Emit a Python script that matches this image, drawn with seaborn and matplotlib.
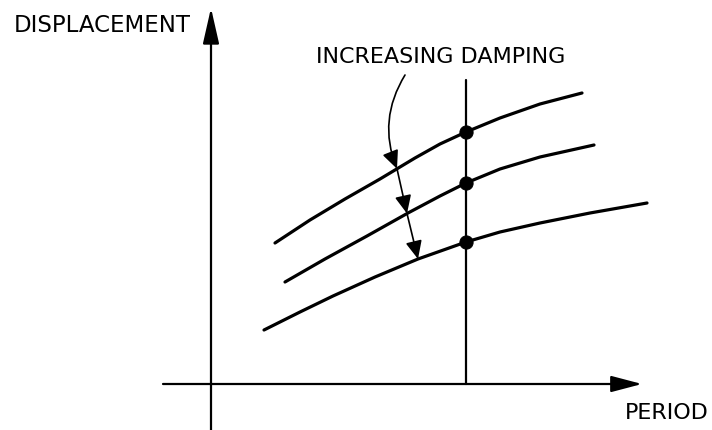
import numpy as np
import pandas as pd
import seaborn as sns
import matplotlib.pyplot as plt
from matplotlib.patches import FancyArrowPatch

# curves (period vs displacement, arbitrary units)
period_low = [275, 310, 345, 380, 415, 440, 466, 500, 540, 582]
disp_low = [187, 210, 231, 251, 272, 286, 298, 312, 326, 337]          # lowest damping

period_mid = [285, 325, 367, 408, 440, 466, 500, 540, 594]
disp_mid = [148, 171, 194, 217, 234, 247, 261, 273, 285]

period_high = [264, 300, 333, 375, 418, 466, 500, 540, 590, 647]
disp_high = [100, 118, 134, 153, 171, 188, 198, 207, 217, 227]         # highest damping

design_period = 466
arrow_periods = [397, 407, 418]

sns.set_theme(style="white")
plt.rcParams['font.family'] = ['DejaVu Sans']
plt.rcParams['text.color'] = 'black'
plt.rcParams['lines.solid_joinstyle'] = 'round'
plt.rcParams['lines.solid_capstyle'] = 'round'

curves = pd.concat([
    pd.DataFrame({"period": period_low, "disp": disp_low, "damping": "low"}),
    pd.DataFrame({"period": period_mid, "disp": disp_mid, "damping": "mid"}),
    pd.DataFrame({"period": period_high, "disp": disp_high, "damping": "high"}),
])

fig = plt.figure(figsize=(7.12, 4.30), dpi=100)
ax = fig.add_axes([0, 0, 1, 1])
ax.set_xlim(0, 712)
ax.set_ylim(0, 430)
ax.set_axis_off()

sns.lineplot(data=curves, x="period", y="disp", units="damping", estimator=None,
             sort=False, color="black", linewidth=2.3, ax=ax, legend=False)

# displacement at the design period
dots = pd.DataFrame({
    "period": [design_period] * 3,
    "disp": [np.interp(design_period, p, d) for p, d in
             [(period_low, disp_low), (period_mid, disp_mid), (period_high, disp_high)]],
})
sns.scatterplot(data=dots, x="period", y="disp", color="black", s=90,
                edgecolor="black", zorder=5, ax=ax, legend=False)
ax.plot([design_period, design_period], [46, 350], color="black", lw=1.6)

# axes with arrows
ax.add_patch(FancyArrowPatch((211, 0), (211, 422), arrowstyle="-|>,head_length=22,head_width=5",
                             mutation_scale=1, color="black", lw=1.6, shrinkA=0, shrinkB=0))
ax.add_patch(FancyArrowPatch((163, 46), (642, 46), arrowstyle="-|>,head_length=19,head_width=5",
                             mutation_scale=1, color="black", lw=1.6, shrinkA=0, shrinkB=0))

ax.text(102, 404, "DISPLACEMENT", fontsize=16.5, ha="center", va="center", color="black")
ax.text(667, 17, "PERIOD", fontsize=16, ha="center", va="center", color="black")
ax.text(441, 373, "INCREASING DAMPING", fontsize=16, ha="center", va="center", color="black")

# arrows showing increasing damping
tips = [np.interp(arrow_periods[0], period_low, disp_low),
        np.interp(arrow_periods[1], period_mid, disp_mid),
        np.interp(arrow_periods[2], period_high, disp_high)]
head = dict(arrowstyle="-|>,head_length=11,head_width=5", mutation_scale=1,
            color="black", lw=1.2, shrinkA=0, shrinkB=0)
ax.add_patch(FancyArrowPatch((405, 355), (arrow_periods[0], tips[0]),
                             connectionstyle="arc3,rad=0.25", **head))
ax.add_patch(FancyArrowPatch((arrow_periods[0], tips[0]), (arrow_periods[1], tips[1]), **head))
ax.add_patch(FancyArrowPatch((arrow_periods[1], tips[1]), (arrow_periods[2], tips[2]), **head))

fig.savefig("out.png", dpi=100)
